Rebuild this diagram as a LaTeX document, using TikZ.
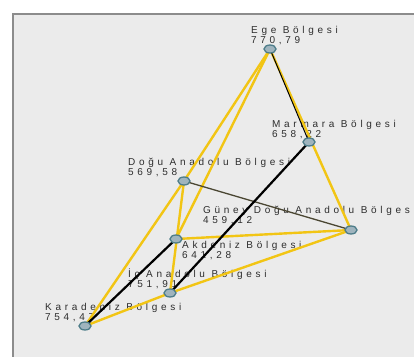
\documentclass[tikz,border=0pt]{standalone}
\usepackage{fontspec}
\newfontfamily\regionfont[LetterSpace=37]{Liberation Sans}
\newcommand\lblfont{\regionfont\fontsize{10}{9.5}\selectfont\lineskiplimit=-10pt\relax}
\definecolor{panel}{HTML}{EBEBEB}
\definecolor{frame}{HTML}{8C8C8C}
\definecolor{gold}{HTML}{F2C514}
\definecolor{olive}{HTML}{4A4632}
\definecolor{nodefill}{HTML}{9FB4BE}
\definecolor{nodeedge}{HTML}{4E7D8A}
\definecolor{txt}{HTML}{2E2E2E}
\usetikzlibrary{shapes.geometric, backgrounds}

\tikzset{
  region/.style={ellipse, draw=nodeedge, fill=nodefill, line width=1.3pt,
    minimum width=12pt, minimum height=8pt, inner sep=0pt},
  lbl/.style={font=\lblfont, text=txt, align=left, inner sep=0pt, anchor=base west},
  yel/.style={gold, line width=2.4pt},
  blk/.style={black, line width=2.2pt},
}

\begin{document}
\begin{tikzpicture}[x=1pt, y=-1pt]
\useasboundingbox (0,0) rectangle (414,356);

% Regions
\node[region] (ege) at (270,49) {};
\node[region] (marmara) at (309,142) {};
\node[region] (dogu) at (184,181) {};
\node[region] (gdogu) at (351,230) {};
\node[region] (akdeniz) at (176,239) {};
\node[region] (icanadolu) at (170,293) {};
\node[region] (karadeniz) at (85,326) {};

\begin{scope}[on background layer]
% Panel
\fill[white] (0,0) rectangle (414,356);
\draw[frame, line width=1.5pt, fill=panel] (13,14) rectangle (420,362);

% Labels (under the lines), anchored on the value line
\node[lbl] (egelbl) at (251,43) {Ege Bölgesi\\770,79};
\node[lbl] (marmaralbl) at (272,137) {Marmara Bölgesi\\658,22};
\node[lbl] (dogulbl) at (128,175) {Doğu Anadolu Bölgesi\\569,58};
\node[lbl] (gdogulbl) at (203,223) {Güney Doğu Anadolu Bölgesi\\459,12};
\node[lbl] (akdenizlbl) at (182,258) {Akdeniz Bölgesi\\641,28};
\node[lbl] (icanadolulbl) at (128,287) {İç Anadolu Bölgesi\\751,91};
\node[lbl] (karadenizlbl) at (45,320) {Karadeniz Bölgesi\\754,47};

% Links
\draw[yel] (ege.center) -- (dogu.center);
\draw[yel] (ege.center) -- (akdeniz.center);
\draw[yel] (ege.center) -- (gdogu.center);
\draw[yel] (dogu.center) -- (karadeniz.center);
\draw[yel] (dogu.center) -- (icanadolu.center);
\draw[yel] (akdeniz.center) -- (gdogu.center);
\draw[yel] (icanadolu.center) -- (gdogu.center);
\draw[yel] (karadeniz.center) -- (icanadolu.center);
\draw[olive, line width=1.3pt] (dogu.center) -- (gdogu.center);
\draw[black, line width=1pt] (ege.center) -- (marmara.center);
\draw[blk] (marmara.center) -- (icanadolu.center);
\draw[blk] (karadeniz.center) -- (akdeniz.center);
\end{scope}

\end{tikzpicture}
\end{document}
